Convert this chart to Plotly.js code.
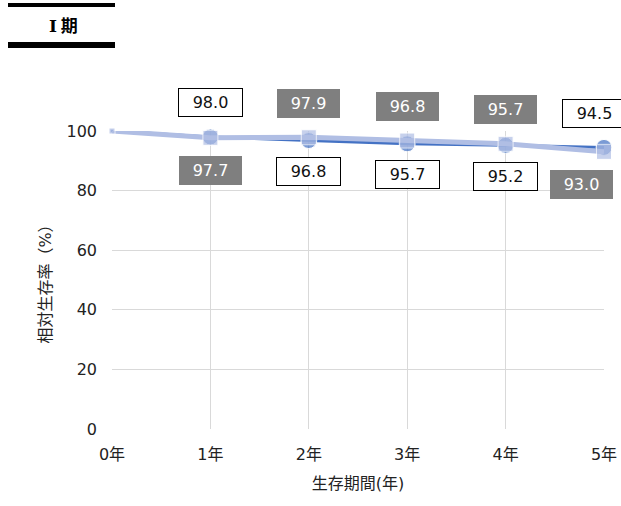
<!DOCTYPE html>
<html>
<head>
<meta charset="utf-8">
<script src="https://cdn.plot.ly/plotly-3.0.1.min.js"></script>
<style>html,body{margin:0;padding:0;background:#fff;}#chart{width:621px;height:506px;}</style>
</head>
<body>
<div id="chart"></div>
<script>
const categories = ['0年', '1年', '2年', '3年', '4年', '5年'];
const seriesDark = [100, 98.0, 96.8, 95.7, 95.2, 94.5];
const seriesLight = [100, 97.7, 97.9, 96.8, 95.7, 93.0];
const chartTitleNum = 'Ⅰ';
const chartTitleWord = '期';
const xTitle = '生存期間(年)';
const yTitle = '相対生存率（%）';

const FONT = 'DejaVu Sans, Verdana, Noto Sans CJK JP, sans-serif';
const TXT = '#222222';
const L = 112, R = 17, T = 131, B = 77, W = 621, H = 506;
const PW = W - L - R, PH = H - T - B;
const px = x => (x - L) / PW;
const py = y => (H - B - y) / PH;

const traces = [
  {
    x: categories, y: seriesDark, type: 'scatter', mode: 'lines+markers',
    line: {color: '#4472C4', width: 3},
    marker: {color: '#4472C4', symbol: 'circle', size: [4, 16, 16, 16, 16, 16]},
    cliponaxis: false, hoverinfo: 'none', showlegend: false
  },
  {
    x: categories, y: seriesLight, type: 'scatter', mode: 'lines+markers',
    line: {color: '#B0BEE4', width: 5},
    marker: {color: '#B0BEE4', symbol: 'square', size: [6, 15, 15, 15, 15, 15]},
    cliponaxis: false, hoverinfo: 'none', showlegend: false
  }
];

const annotations = [];
for (let i = 1; i < categories.length; i++) {
  const darkAbove = seriesDark[i] > seriesLight[i];
  const last = i === categories.length - 1;
  annotations.push({
    x: categories[i], y: seriesDark[i], xref: 'x', yref: 'y',
    text: seriesDark[i].toFixed(1), showarrow: false,
    yshift: darkAbove ? 34 : -31, xshift: last ? -10 : 0,
    font: {family: FONT, size: 16, color: '#111'},
    bgcolor: '#ffffff', bordercolor: '#000000', borderwidth: 1,
    width: 63, height: 27, borderpad: 0
  });
  annotations.push({
    x: categories[i], y: seriesLight[i], xref: 'x', yref: 'y',
    text: seriesLight[i].toFixed(1), showarrow: false,
    yshift: darkAbove ? -33 : 34, xshift: last ? -23 : 0,
    font: {family: FONT, size: 16, color: '#ffffff'},
    bgcolor: '#7F7F7F', bordercolor: '#7F7F7F', borderwidth: 1,
    width: 61, height: 27, borderpad: 0
  });
}
annotations.push({
  x: px(63), y: py(25), xref: 'paper', yref: 'paper', xanchor: 'center', yanchor: 'middle',
  text: '<b><span style="font-family:DejaVu Serif">' + chartTitleNum + '</span> ' + chartTitleWord + '</b>',
  showarrow: false,
  font: {family: 'Noto Sans CJK JP, sans-serif', size: 17, color: '#000'}
});

const shapes = [
  {type: 'rect', xref: 'paper', yref: 'paper', x0: px(8), x1: px(115), y0: py(3), y1: py(7), fillcolor: '#000', line: {width: 0}},
  {type: 'rect', xref: 'paper', yref: 'paper', x0: px(8), x1: px(115), y0: py(42), y1: py(48), fillcolor: '#000', line: {width: 0}}
];

const layout = {
  width: W, height: H,
  margin: {l: L, r: R, t: T, b: B, pad: 0},
  paper_bgcolor: '#ffffff', plot_bgcolor: '#ffffff',
  font: {family: FONT, size: 16, color: TXT},
  xaxis: {
    type: 'category', range: [0, 5], showgrid: true, gridcolor: '#D9D9D9', gridwidth: 1,
    zeroline: false, showline: false, ticks: '', ticklabelstandoff: 14,
    tickfont: {family: FONT, size: 16, color: TXT},
    title: {text: xTitle, font: {family: FONT, size: 16, color: TXT}, standoff: 14}
  },
  yaxis: {
    range: [0, 100], dtick: 20, showgrid: true, gridcolor: '#D9D9D9', gridwidth: 1,
    zeroline: false, showline: false, ticks: '', ticklabelstandoff: 14,
    tickfont: {family: FONT, size: 16, color: TXT},
    title: {text: yTitle, font: {family: FONT, size: 16, color: TXT}, standoff: 10}
  },
  annotations: annotations,
  shapes: shapes
};

Plotly.newPlot('chart', traces, layout, {displayModeBar: false, staticPlot: true});
</script>
</body>
</html>
